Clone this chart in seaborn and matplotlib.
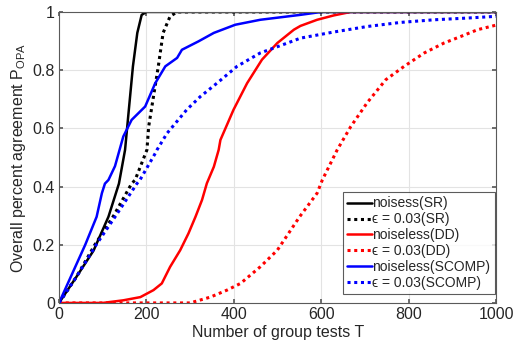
import matplotlib
matplotlib.use("Agg")
import matplotlib.pyplot as plt
import seaborn as sns
import pandas as pd

# ---- data ----
sr_T = [0, 40, 79, 113, 137, 151, 156, 169, 179, 189, 200, 1000]
sr_P = [0, 0.09, 0.18, 0.296, 0.41, 0.526, 0.606, 0.813, 0.928, 0.99, 1.0, 1.0]

sr_eps_T = [0, 40, 82, 125, 166, 174, 201, 205, 227, 238, 254, 270, 1000]
sr_eps_P = [0, 0.09, 0.2, 0.3, 0.41, 0.4225, 0.526, 0.606, 0.813, 0.928, 0.985, 1.0, 1.0]

dd_T = [0, 100, 147, 186, 216, 235, 254, 277, 296, 312, 327, 338, 354, 365, 369,
        399, 430, 464, 499, 537, 552, 590, 628, 667, 1000]
dd_P = [0, 0, 0.009, 0.02, 0.044, 0.067, 0.124, 0.181, 0.239, 0.296, 0.354, 0.411,
        0.468, 0.526, 0.56, 0.664, 0.755, 0.836, 0.893, 0.939, 0.952, 0.973, 0.988,
        1.0, 1.0]

dd_eps_T = [0, 300, 346, 384, 415, 460, 499, 550, 590, 602, 636, 667, 705, 747,
            789, 835, 880, 919, 957, 1000]
dd_eps_P = [0, 0, 0.02, 0.044, 0.067, 0.124, 0.181, 0.296, 0.377, 0.4225, 0.526,
            0.606, 0.689, 0.767, 0.813, 0.859, 0.893, 0.916, 0.939, 0.955]

scomp_T = [0, 30, 60, 86, 98, 105, 113, 128, 147, 166, 197, 220, 243, 270, 281,
           319, 354, 403, 460, 552, 600, 1000]
scomp_P = [0, 0.1, 0.2, 0.296, 0.377, 0.41, 0.4225, 0.47, 0.572, 0.629, 0.675,
           0.755, 0.813, 0.842, 0.87, 0.899, 0.928, 0.956, 0.973, 0.99, 1.0, 1.0]

scomp_eps_T = [0, 40, 85, 130, 178, 185, 220, 224, 247, 292, 323, 361, 407, 460,
               522, 552, 628, 705, 781, 857, 934, 1000]
scomp_eps_P = [0, 0.09, 0.2, 0.3, 0.41, 0.4225, 0.514, 0.526, 0.583, 0.664, 0.709,
               0.755, 0.813, 0.859, 0.893, 0.91, 0.931, 0.95, 0.964, 0.973, 0.979,
               0.985]

labels = ["noisess(SR)", "\u03f5 = 0.03(SR)", "noiseless(DD)",
          "\u03f5 = 0.03(DD)", "noiseless(SCOMP)", "\u03f5 = 0.03(SCOMP)"]
x_ticks = [0, 200, 400, 600, 800, 1000]
y_ticks = [0, 0.2, 0.4, 0.6, 0.8, 1]
y_tick_labels = ["0", "0.2", "0.4", "0.6", "0.8", "1"]

series = [(sr_T, sr_P), (sr_eps_T, sr_eps_P), (dd_T, dd_P), (dd_eps_T, dd_eps_P),
          (scomp_T, scomp_P), (scomp_eps_T, scomp_eps_P)]
colors = ["black", "black", "#ff0000", "#ff0000", "#0000ff", "#0000ff"]
dotted = [False, True, False, True, False, True]

sns.set_theme(style="white")
plt.rcParams["font.family"] = ["Liberation Sans", "DejaVu Sans"]
plt.rcParams["mathtext.fontset"] = "custom"
plt.rcParams["mathtext.rm"] = "Liberation Sans"

fig = plt.figure(figsize=(5.14, 3.46), dpi=100)
ax = fig.add_axes([0.1148, 0.1245, 0.851, 0.841])

for (T, P), lab, c, dt in zip(series, labels, colors, dotted):
    df = pd.DataFrame({"T": T, "P": P})
    if dt:
        sns.lineplot(data=df, x="T", y="P", ax=ax, color=c,
                     linestyle=(0, (1.0, 1.2)), dash_capstyle="butt",
                     linewidth=2.2, label=lab, estimator=None, sort=False)
    else:
        sns.lineplot(data=df, x="T", y="P", ax=ax, color=c, linestyle="-",
                     linewidth=1.8, label=lab, estimator=None, sort=False)

ax.set_xlim(0, 1000)
ax.set_ylim(0, 1)
ax.set_xticks(x_ticks)
ax.set_xticklabels([str(v) for v in x_ticks])
ax.set_yticks(y_ticks)
ax.set_yticklabels(y_tick_labels)
ax.grid(True, color="#e3e3e3", linewidth=0.8)
ax.set_axisbelow(True)
for s in ax.spines.values():
    s.set_color("#5a5a5a")
    s.set_linewidth(0.8)
ax.tick_params(direction="in", length=3, colors="#262626", labelsize=11.5,
               top=True, right=True, bottom=True, left=True, pad=3)
ax.tick_params(axis="both", color="#5a5a5a")
ax.set_xlabel("Number of group tests T", fontsize=11.5, color="#262626", labelpad=2)
ax.set_ylabel(r"Overall percent agreement P$_{\mathregular{OPA}}$", fontsize=11.5,
              color="#262626", labelpad=3)

leg = ax.legend(loc="lower right", bbox_to_anchor=(1.002, 0.02), fontsize=10,
                frameon=True, fancybox=False, handlelength=1.75, handletextpad=0.05,
                borderpad=0.3, labelspacing=0.14, borderaxespad=0.2)
leg.get_frame().set_edgecolor("#333333")
leg.get_frame().set_linewidth(0.8)
for t in leg.get_texts():
    t.set_color("#262626")

fig.savefig("out.png", dpi=100)
